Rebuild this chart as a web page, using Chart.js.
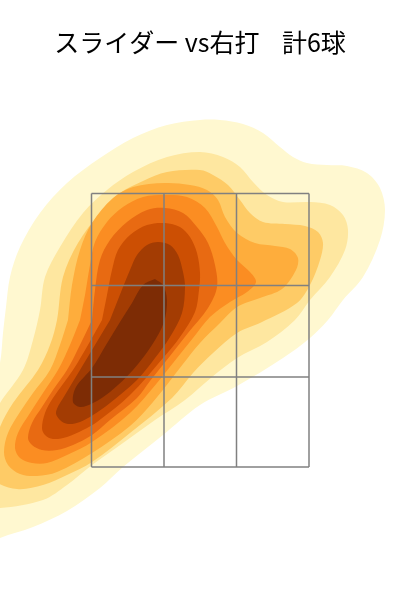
<!DOCTYPE html>
<html><head><meta charset="utf-8">
<style>html,body{margin:0;padding:0;background:#fff}canvas{display:block}</style>
<script src="https://cdn.jsdelivr.net/npm/chart.js@4"></script></head>
<body><canvas id="c" width="400" height="600"></canvas>
<script>
const titleText = "スライダー vs右打    計6球";
const zoneX = [-108.5,-36,36.5,109];
const zoneY = [0,90,181.5,273.5];
const level1 = [[-235,-63],[-220,-83],[-200,-71],[-167,-60],[-133,-44],[-100,-21],[-77,0],[-37,32],[0,62],[37,81],[83,109],[110,129],[128,147],[143,167],[163,190],[180,227],[185,257],[180,279],[167,294],[147,301],[127,302],[107,304],[93,310],[80,320],[63,334],[43,343],[20,347],[0,347],[-33,342],[-67,329],[-100,309],[-133,284],[-160,254],[-180,220],[-190,190],[-194,160],[-197,134],[-200,104],[-210,67],[-230,-3]];
const level2 = [[-230,-13],[-220,-38],[-200,-41],[-157,-33],[-133,-18],[-108,2],[-77,24],[-45,47],[-15,67],[12,90],[37,109],[67,125],[95,147],[110,167],[130,190],[145,217],[148,237],[143,252],[130,262],[110,265],[83,265],[67,272],[53,285],[40,300],[23,310],[0,315],[-33,310],[-67,295],[-93,277],[-117,254],[-140,220],[-155,190],[-160,157],[-167,127],[-177,97],[-200,64],[-220,27]];
const level3 = [[-208,12],[-205,-13],[-183,-22],[-157,-18],[-133,-8],[-108,5],[-70,34],[-28,69],[-7,94],[13,114],[37,134],[62,145],[97,164],[110,182],[120,207],[123,224],[118,235],[105,241],[85,243],[63,245],[50,254],[40,267],[28,282],[13,292],[0,297],[-33,295],[-57,286],[-80,274],[-100,254],[-122,224],[-137,190],[-143,147],[-150,122],[-162,97],[-187,64],[-200,40]];
const level4 = [[-132,147],[-140,122],[-150,97],[-167,74],[-180,55],[-192,34],[-196,15],[-192,2],[-180,-7],[-163,-9],[-143,-5],[-108,14],[-70,41],[-47,65],[-17,103],[0,124],[20,144],[37,160],[60,169],[82,178],[96,197],[98,209],[90,218],[75,221],[55,224],[37,234],[25,250],[18,267],[7,277],[-10,282],[-35,284],[-67,280],[-87,269],[-108,244],[-120,217],[-128,182]];
const level5 = [[-120,147],[-130,122],[-142,97],[-157,74],[-170,54],[-182,34],[-185,19],[-180,9],[-168,4],[-153,4],[-133,12],[-108,25],[-70,54],[-43,84],[-23,109],[-7,129],[10,150],[30,165],[47,175],[56,185],[50,195],[37,207],[25,224],[17,240],[5,259],[-13,270],[-35,272],[-57,270],[-77,260],[-93,245],[-105,225],[-110,202],[-115,172]];
const level6 = [[-108,147],[-120,122],[-133,97],[-147,77],[-158,60],[-168,44],[-172,29],[-168,22],[-158,17],[-143,17],[-127,22],[-108,32],[-90,47],[-63,69],[-50,86],[-30,111],[-12,134],[8,159],[17,180],[15,202],[8,224],[-3,240],[-17,254],[-35,259],[-53,257],[-73,245],[-90,227],[-100,207],[-105,177]];
const level7 = [[-98,147],[-112,122],[-127,97],[-147,69],[-155,54],[-158,39],[-155,32],[-147,28],[-133,30],[-117,37],[-103,45],[-70,72],[-37,109],[-20,130],[-5,155],[-1,177],[0,194],[-3,214],[-10,230],[-20,240],[-35,244],[-53,242],[-70,232],[-82,217],[-88,197],[-93,172]];
const level8 = [[-90,147],[-105,122],[-120,97],[-135,72],[-144,55],[-140,47],[-132,43],[-120,45],[-107,52],[-90,64],[-63,87],[-45,109],[-30,130],[-18,154],[-15,180],[-17,195],[-22,212],[-30,222],[-42,225],[-53,222],[-63,212],[-70,197],[-77,180]];
const level9 = [[-45,188],[-37,182],[-33,167],[-36,145],[-48,122],[-67,97],[-90,75],[-107,64],[-120,60],[-127,65],[-124,80],[-108,99],[-94,122],[-80,145],[-68,164],[-57,182]];
const levels = [level1,level2,level3,level4,level5,level6,level7,level8,level9];
const colors = ["#FFF8D0","#FEE7A0","#FECB66","#FEAD3C","#FB8D22","#E86A12","#CC4F03","#A33C03","#7D2C05"];

const datasets = [];
const lineStyle = {showLine:true,borderColor:"#808080",borderWidth:1.5,pointRadius:0,fill:false,tension:0,order:0};
zoneX.forEach(x=>datasets.push({data:[{x,y:zoneY[0]},{x,y:zoneY[3]}],...lineStyle}));
zoneY.forEach(y=>datasets.push({data:[{x:zoneX[0],y},{x:zoneX[3],y}],...lineStyle}));
levels.forEach((pts,i)=>{
  const closed = pts.concat([pts[0]]).map(p=>({x:p[0],y:p[1]}));
  datasets.push({data:closed,showLine:true,fill:"shape",backgroundColor:colors[i],borderColor:colors[i],borderWidth:0,pointRadius:0,tension:0.33,order:levels.length-i});
});
new Chart(document.getElementById("c"),{
  type:"scatter",
  data:{datasets},
  options:{
    responsive:false,animation:false,
    layout:{padding:0},
    scales:{x:{type:"linear",display:false,min:-200,max:200},y:{type:"linear",display:false,min:-133,max:396}},
    plugins:{legend:{display:false},tooltip:{enabled:false},
      title:{display:true,text:titleText,color:"#000",font:{family:"'Noto Sans CJK JP'",size:25,weight:"normal",lineHeight:1.2},padding:{top:27,bottom:14}}}
  }
});
</script></body></html>
